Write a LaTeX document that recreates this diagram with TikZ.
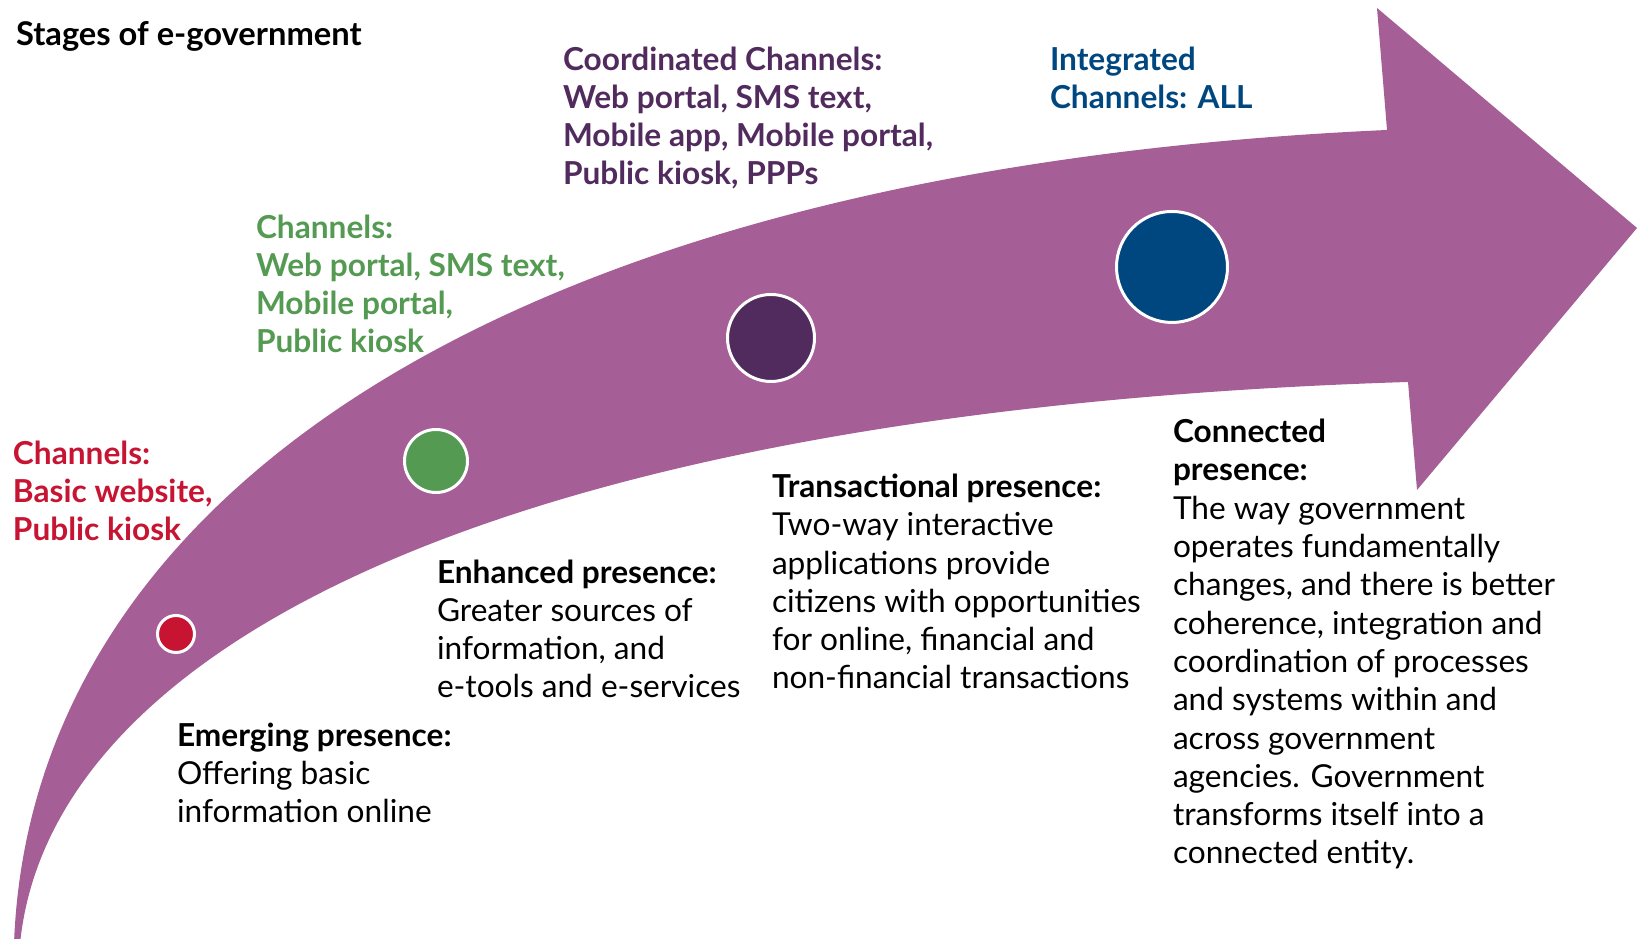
\documentclass[tikz,border=0pt]{standalone}
\usepackage{fontspec}
\setmainfont{Lato}
\definecolor{arrowpurple}{RGB}{166,94,150}
\definecolor{stagered}{RGB}{198,20,50}
\definecolor{stagegreen}{RGB}{84,154,82}
\definecolor{stageplum}{RGB}{82,43,94}
\definecolor{stageblue}{RGB}{0,71,127}
\begin{document}
\begin{tikzpicture}[
    every node/.style={inner sep=0pt, outer sep=0pt, anchor=base west, align=left},
    body/.style={font=\fontsize{9}{10.9}\selectfont},
    chan/.style={font=\fontsize{9}{10.9}\selectfont\bfseries},
    dot/.style={circle, draw=white, line width=0.85pt, anchor=center}
]
\useasboundingbox (0,0) rectangle (16.37,9.39);
% curved arrow
\fill[arrowpurple] (0.14,-0.05) .. controls (0.30,4.39) and (5.00,7.69) .. (13.87,8.09)
    -- (13.77,9.31) -- (16.37,7.11) -- (14.17,4.49) -- (14.08,5.57)
    .. controls (5.20,5.29) and (0.50,2.99) .. (0.20,-0.05) -- cycle;
% stage dots
\node[dot, fill=stagered,   minimum size=3.7mm]  (emerging) at (1.76,3.05) {};
\node[dot, fill=stagegreen, minimum size=6.3mm]  (enhanced) at (4.36,4.78) {};
\node[dot, fill=stageplum,  minimum size=8.7mm]  (transact) at (7.71,6.01) {};
\node[dot, fill=stageblue,  minimum size=11.1mm] (connect)  at (11.72,6.72) {};
% texts (anchored at the baseline of the last line)
\node[body, font=\fontsize{9.3}{10.9}\selectfont\bfseries] (title) at (0.16,8.93) {Stages of e-government};
\node[chan, text=stagered]   (redchan)   at (0.13,3.98) {Channels:\\Basic website,\\Public kiosk};
\node[chan, text=stagegreen] (greenchan) at (2.56,5.86) {Channels:\\Web portal, SMS text,\\Mobile portal,\\Public kiosk};
\node[chan, text=stageplum]  (plumchan)  at (5.63,7.54) {Coordinated Channels:\\Web portal, SMS text,\\Mobile app, Mobile portal,\\Public kiosk, PPPs};
\node[chan, text=stageblue]  (bluechan)  at (10.50,8.30) {Integrated\\Channels: ALL};
\node[body] (emergingtext) at (1.77,1.16) {\textbf{Emerging presence:}\\Offering basic\\information online};
\node[body] (enhancedtext) at (4.37,2.41) {\textbf{Enhanced presence:}\\Greater sources of\\information, and\\e-tools and e-services};
\node[body] (transacttext) at (7.72,2.50) {\textbf{Transactional presence:}\\Two-way interactive\\applications provide\\citizens with opportunities\\for online, financial and\\non-financial transactions};
\node[body] (connecttext)  at (11.73,0.75) {\textbf{Connected}\\\textbf{presence:}\\The way government\\operates fundamentally\\changes, and there is better\\coherence, integration and\\coordination of processes\\and systems within and\\across government\\agencies. Government\\transforms itself into a\\connected entity.};
\end{tikzpicture}
\end{document}
